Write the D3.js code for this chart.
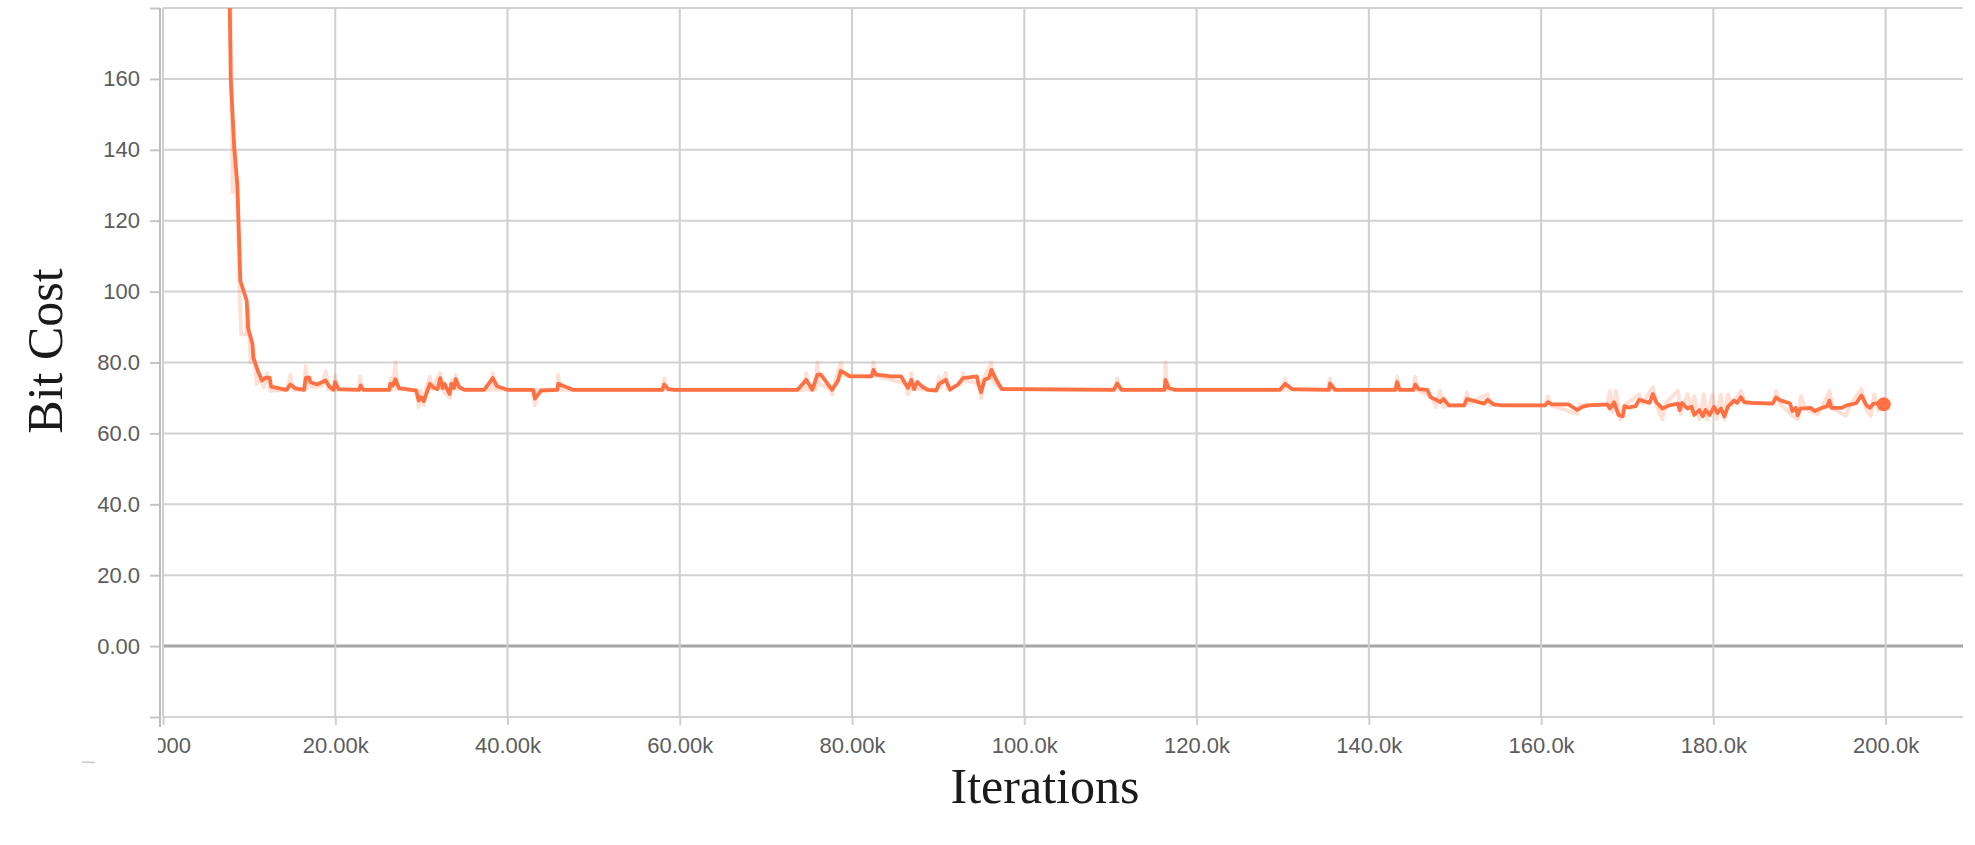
<!DOCTYPE html>
<html>
<head>
<meta charset="utf-8">
<script src="https://cdn.jsdelivr.net/npm/d3@7"></script>
<style>
	html, body { margin: 0; padding: 0; background: #fff; }
	svg { display: block; }
	.tick-label { font-family: "Liberation Sans", Arial, sans-serif; font-size: 22px; fill: #5c5c5c; }
	.title { font-family: "Liberation Serif", "Times New Roman", serif; font-size: 50px; fill: #1a1a1a; }
</style>
</head>
<body>
<svg id="chart" width="1975" height="845"></svg>
<script>
/* ticks (x in thousands of iterations) */
var xTicks = [0, 20, 40, 60, 80, 100, 120, 140, 160, 180, 200];
var xTickLabels = ["0.000", "20.00k", "40.00k", "60.00k", "80.00k", "100.0k", "120.0k", "140.0k", "160.0k", "180.0k", "200.0k"];
var yTicks = [-20, 0, 20, 40, 60, 80, 100, 120, 140, 160, 180];
var yTickLabels = ["", "0.00", "20.0", "40.0", "60.0", "80.0", "100", "120", "140", "160", ""];

/* smoothed bit cost, [step (k), value] */
var smoothed = [
	[7.6, 230], [7.98, 160], [8.4, 140], [8.75, 130], [9.1, 103], [9.83, 97.5], [10.0, 89.6], [10.5, 85.3],
	[10.6, 81.4], [11.15, 77.5], [11.6, 74.9], [12.0, 75.7], [12.5, 75.7], [12.67, 73.2], [14.45, 72.3],
	[14.9, 73.8], [15.5, 72.7], [16.5, 72.3], [16.7, 75.7], [17.1, 75.7], [17.2, 74.5], [18.0, 73.8],
	[19.0, 74.9], [19.4, 73.3], [19.9, 72.3], [20.1, 74.5], [20.5, 72.5], [22.9, 72.3], [23.05, 73.5],
	[23.4, 72.3], [26.4, 72.3], [26.5, 74], [26.8, 73.5], [27.1, 75.3], [27.5, 72.8], [29.5, 72.1],
	[29.8, 69.3], [30.1, 70.2], [30.4, 69.1], [30.9, 72.6], [31.1, 74], [31.6, 72.8], [32.0, 72.5],
	[32.3, 75.6], [32.6, 72.8], [32.8, 74], [33.1, 72.5], [33.4, 71.1], [33.6, 74], [33.9, 72.8],
	[34.1, 75.3], [34.5, 73.1], [35.1, 72.3], [37.4, 72.3], [38.4, 75.6], [38.9, 73.3], [40.1, 72.3],
	[43.1, 72.3], [43.3, 69.8], [44.0, 72.1], [45.9, 72.3], [46.0, 74], [46.7, 73.3], [47.7, 72.3],
	[58.1, 72.3], [58.3, 73.8], [58.8, 72.5], [59.5, 72.3], [73.8, 72.3], [74.8, 75.1], [75.5, 72.3],
	[76.1, 76.6], [76.5, 76.6], [77.8, 72.3], [78.5, 74.9], [78.8, 77.6], [79.3, 77.0], [79.8, 76.1],
	[82.4, 76.1], [82.6, 77.9], [82.9, 76.6], [84.7, 76.1], [85.8, 76.1], [86.6, 72.8], [87.0, 75.1],
	[87.3, 72.5], [87.7, 74.5], [88.2, 73.3], [88.9, 72.3], [89.9, 72.1], [90.2, 73.9], [91.0, 75.1],
	[91.5, 72.3], [92.4, 73.8], [93.0, 75.6], [94.6, 76.1], [94.8, 73.8], [95.1, 71.6], [95.5, 75.1],
	[96.0, 75.6], [96.3, 77.9], [96.9, 74.9], [97.5, 72.5], [110.5, 72.3], [110.9, 74.1], [111.4, 72.3],
	[116.4, 72.3], [116.5, 75.1], [116.9, 72.8], [117.6, 72.3], [129.8, 72.3], [130.4, 74], [131.2, 72.5],
	[135.5, 72.3], [135.6, 74.1], [136.2, 72.3], [143.2, 72.3], [143.4, 74.5], [143.7, 72.3], [145.3, 72.3],
	[145.5, 73.8], [145.9, 72.5], [146.9, 72.3], [147.3, 70.2], [147.9, 69.5], [148.4, 68.8], [148.8, 69.7],
	[149.4, 67.9], [151.2, 67.9], [151.5, 69.7], [152.1, 69.3], [153.5, 68.4], [153.9, 69.5], [154.6, 68.2],
	[155.6, 67.9], [160.6, 67.9], [160.9, 68.8], [161.4, 68.2], [163.3, 68.2], [164.3, 66.6], [164.9, 67.5],
	[165.6, 67.9], [167.8, 68.2], [168.1, 67.0], [168.6, 68.8], [169.1, 65.2], [169.6, 64.8], [169.8, 67.7],
	[170.2, 67.3], [171.1, 67.7], [171.5, 69.5], [172.7, 68.6], [173.1, 71.1], [173.5, 68.8], [174.2, 67.0],
	[175.0, 67.9], [176.0, 68.4], [176.2, 66.6], [176.5, 68.6], [177.1, 67.0], [177.6, 67.5], [177.9, 65.2],
	[178.5, 66.6], [178.9, 64.8], [179.2, 66.6], [179.7, 65.2], [180.2, 67.5], [180.6, 65.7], [181.0, 67.0],
	[181.4, 64.8], [181.8, 67.5], [182.5, 69.3], [182.9, 68.6], [183.3, 70.2], [183.7, 68.8], [184.7, 68.6],
	[187.0, 68.4], [187.4, 70.1], [187.9, 69.3], [189.0, 68.5], [189.3, 66.3], [189.7, 67.2], [189.9, 65.1],
	[190.2, 67.0], [191.4, 67.2], [191.9, 66.3], [192.7, 67.2], [193.3, 67.6], [193.6, 69.3], [193.8, 67.2],
	[195.0, 67.2], [195.6, 67.9], [196.7, 68.5], [197.3, 70.7], [197.9, 67.9], [198.3, 67.2], [198.7, 68.4],
	[199.1, 68.4], [199.5, 68.8], [199.9, 68.2]
];

/* raw (unsmoothed) bit cost, drawn faint behind */
var raw = [
	[7.6, 240], [8.1, 150], [8.2, 128], [8.5, 140], [8.8, 124], [9.0, 100], [9.2, 88], [9.8, 88],
	[10.0, 95], [10.3, 80], [10.6, 84], [11.0, 74], [11.4, 76], [11.8, 73], [12.2, 77], [12.6, 72],
	[14.6, 72.3], [14.9, 76.5], [15.2, 72.3], [16.5, 72.3], [16.7, 79], [16.9, 72.8], [17.1, 76], [17.4, 73],
	[18.6, 73.5], [19.0, 77.5], [19.3, 72.5], [20.0, 72.3], [20.1, 76.5], [20.3, 72.3], [22.9, 72.3],
	[23.0, 76], [23.2, 72.3], [26.4, 72.3], [26.6, 75.5], [26.8, 72.5], [27.1, 80], [27.3, 72.5],
	[29.6, 72.3], [29.8, 67.5], [30.0, 72], [30.4, 68], [30.6, 72], [31.1, 76], [31.3, 72.5], [32.3, 77],
	[32.5, 72.5], [33.4, 70], [33.6, 75], [33.8, 72.5], [34.1, 76.5], [34.3, 72.5], [38.2, 72.3],
	[38.4, 77], [38.6, 72.3], [43.1, 72.3], [43.3, 68], [43.5, 72.3], [45.9, 72.3], [46.0, 76.5],
	[46.2, 72.3], [58.1, 72.3], [58.3, 75.5], [58.5, 72.3], [74.6, 72.3], [74.8, 77], [75.0, 72.3],
	[75.9, 72.3], [76.1, 80], [76.3, 74], [77.6, 72.5], [77.8, 71], [78.0, 73], [78.8, 80], [79.0, 76.5],
	[82.4, 76.1], [82.6, 80], [82.8, 76.3], [86.4, 74], [86.6, 71], [86.8, 72.5], [87.0, 77], [87.2, 72.5],
	[90.0, 72.3], [90.2, 76], [90.4, 73], [91.0, 77], [91.2, 72.5], [92.8, 74], [93.0, 77], [93.2, 75],
	[94.9, 74], [95.1, 70], [95.3, 75], [96.3, 80], [96.5, 74.5], [97.5, 72.5], [110.7, 72.3], [110.9, 75.5],
	[111.1, 72.3], [116.4, 72.3], [116.5, 80], [116.7, 72.3], [130.2, 72.3], [130.4, 75.5], [130.6, 72.3],
	[135.4, 72.3], [135.6, 75.5], [135.8, 72.3], [143.2, 72.3], [143.4, 76], [143.6, 72.3], [145.3, 72.3],
	[145.5, 76], [145.7, 72.3], [147.5, 70], [147.9, 67.5], [148.4, 72], [148.8, 67.5], [149.4, 67.9],
	[151.2, 67.9], [151.5, 71.5], [151.8, 68.5], [153.9, 71], [154.2, 68], [160.6, 67.9], [160.9, 70.5],
	[161.2, 68], [164.3, 65.5], [164.6, 68], [167.8, 68], [168.1, 72], [168.4, 66], [168.8, 72], [169.3, 64],
	[169.8, 68], [171.5, 71], [171.9, 68.5], [173.1, 73], [173.5, 68], [174.2, 64], [174.6, 68.5], [176.0, 72],
	[176.3, 65.5], [177.1, 71], [177.6, 66], [177.9, 70.5], [178.5, 64], [179.0, 71], [179.4, 64], [180.0, 71],
	[180.5, 64], [181.0, 71], [181.4, 64], [181.8, 71], [182.3, 68], [183.3, 72], [183.8, 68.5], [187.0, 68.4],
	[187.4, 72], [187.8, 68.5], [189.3, 65], [189.9, 64], [190.3, 70.5], [190.8, 67], [192.2, 65.5],
	[192.7, 67.2], [193.6, 72], [194.0, 67], [195.5, 65], [196.0, 68], [197.3, 72.5], [197.9, 66.5],
	[198.4, 65], [198.8, 71], [199.3, 66.5], [199.9, 68.2]
];

var lineColor = "#ff7043";

/**
* @func Draw the whole chart
*/
function draw_chart()
{
	var svg = d3.select("#chart");
	var left = 162, right = 1963, top = 8, bottom = 717;

	var x = d3.scaleLinear().domain([0, 209.1]).range([left, right]);
	var y = d3.scaleLinear().domain([-20, 180]).range([bottom, top]);

	var defs = svg.append("defs");
	defs.append("clipPath").attr("id", "plot-clip")
		.append("rect")
		.attr("x", left + 1).attr("y", top)
		.attr("width", right - left).attr("height", bottom - top);
	// the first x label is cut by the chart edge
	defs.append("clipPath").attr("id", "xlabel-clip")
		.append("rect")
		.attr("x", 158).attr("y", 700)
		.attr("width", 1817).attr("height", 80);

	/* grid */
	var grid = svg.append("g");
	grid.selectAll(".hgrid")
		.data(yTicks)
		.enter().append("line")
		.attr("x1", left + 1).attr("x2", right)
		.attr("y1", function(d) { return y(d); })
		.attr("y2", function(d) { return y(d); })
		.attr("stroke", function(d) { return d === 0 ? "#a6a6a6" : "#d2d2d2"; })
		.attr("stroke-width", function(d) { return d === 0 ? 3 : 2; });

	grid.selectAll(".vgrid")
		.data(xTicks)
		.enter().append("line")
		.attr("x1", function(d) { return x(d) + 1; })
		.attr("x2", function(d) { return x(d) + 1; })
		.attr("y1", top).attr("y2", bottom)
		.attr("stroke", "#cfcfcf")
		.attr("stroke-width", 2);

	/* y axis */
	var yAxis = d3.axisLeft(y)
		.tickValues(yTicks)
		.tickFormat(function(d, i) { return yTickLabels[i]; })
		.tickSize(10)
		.tickPadding(10);
	var gy = svg.append("g")
		.attr("transform", "translate(160,0)")
		.call(yAxis);
	gy.select(".domain").remove();
	gy.append("line")
		.attr("x1", 0).attr("x2", 0)
		.attr("y1", top).attr("y2", bottom + 10)
		.attr("stroke", "#bdbdbd").attr("stroke-width", 2);
	gy.selectAll(".tick line").attr("stroke", "#c4c4c4").attr("stroke-width", 2);
	gy.selectAll(".tick text")
		.attr("class", "tick-label")
		.attr("font-family", null).attr("font-size", null).attr("fill", null);

	/* x axis */
	var xAxis = d3.axisBottom(x)
		.tickValues(xTicks)
		.tickFormat(function(d, i) { return xTickLabels[i]; })
		.tickSize(9)
		.tickPadding(12);
	var gx = svg.append("g")
		.attr("clip-path", "url(#xlabel-clip)")
		.append("g")
		.attr("transform", "translate(1," + (bottom - 1) + ")")
		.call(xAxis);
	gx.select(".domain").remove();
	gx.selectAll(".tick line").attr("stroke", "#cfcfcf").attr("stroke-width", 2);
	gx.selectAll(".tick text")
		.attr("class", "tick-label")
		.attr("font-family", null).attr("font-size", null).attr("fill", null)
		.attr("y", 37).attr("dy", null);

	/* lines */
	var path = d3.line()
		.x(function(d) { return x(d[0]); })
		.y(function(d) { return y(d[1]); });

	var plot = svg.append("g").attr("clip-path", "url(#plot-clip)");
	plot.append("path")
		.datum(raw)
		.attr("d", path)
		.attr("fill", "none")
		.attr("stroke", lineColor)
		.attr("stroke-opacity", 0.22)
		.attr("stroke-width", 4)
		.attr("stroke-linejoin", "round");

	plot.append("path")
		.datum(smoothed)
		.attr("d", path)
		.attr("fill", "none")
		.attr("stroke", lineColor)
		.attr("stroke-width", 3.8)
		.attr("stroke-linejoin", "round");

	var last = smoothed[smoothed.length - 1];
	plot.append("circle")
		.attr("cx", x(last[0]))
		.attr("cy", y(last[1]))
		.attr("r", 7)
		.attr("fill", lineColor);

	/* titles */
	svg.append("text")
		.attr("class", "title")
		.attr("text-anchor", "middle")
		.attr("transform", "translate(62,351) rotate(-90)")
		.text("Bit Cost");

	svg.append("text")
		.attr("class", "title")
		.attr("text-anchor", "middle")
		.attr("x", 1045).attr("y", 803)
		.text("Iterations");

	/* small stray mark under the y axis */
	svg.append("line")
		.attr("x1", 82).attr("x2", 95)
		.attr("y1", 762).attr("y2", 762.5)
		.attr("stroke", "#c8c8c8").attr("stroke-width", 1.5);
}

draw_chart();
</script>
</body>
</html>
